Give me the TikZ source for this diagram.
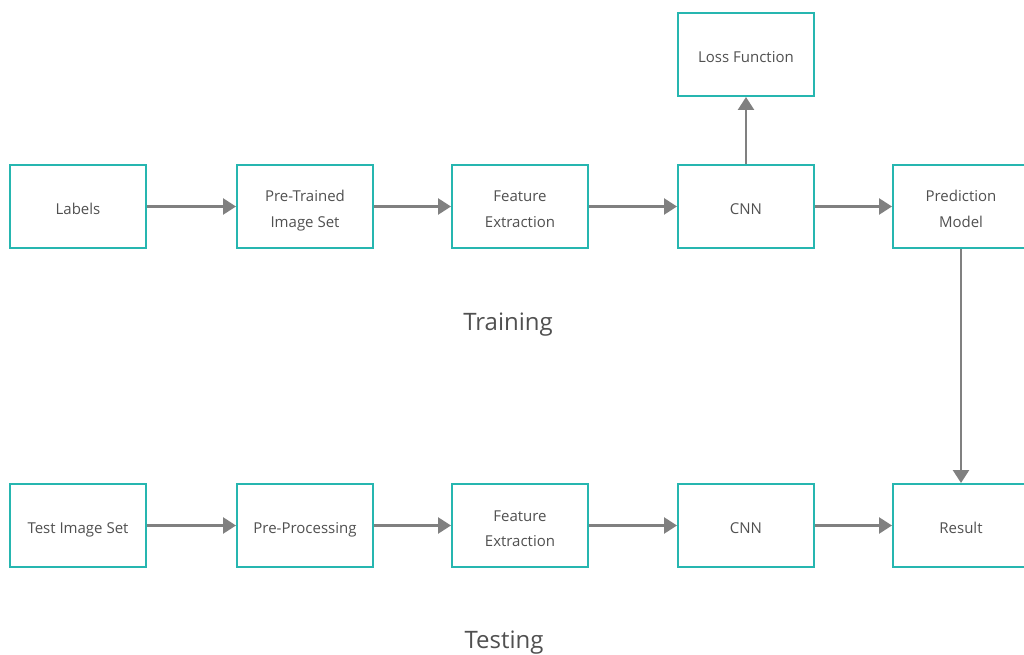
\documentclass[tikz,border=0pt]{standalone}
\usepackage{fontspec}
\setmainfont{Open Sans}
\usetikzlibrary{arrows.meta}
\definecolor{boxteal}{RGB}{38,182,176}
\definecolor{arrgray}{RGB}{128,128,128}
\definecolor{txtgray}{RGB}{80,80,80}
\newcommand{\blktext}[1]{\raisebox{-3bp}[\height][\depth]{\begin{tabular}{@{}c@{}}#1\end{tabular}}}
\tikzset{
  blk/.style={draw=boxteal, line width=2bp, minimum width=136bp, minimum height=83bp,
    inner sep=0pt, font=\fontsize{15bp}{25bp}\selectfont, text=txtgray},
  conn/.style={draw=arrgray, line width=2.6bp, -{Triangle[length=13bp,width=16bp]}},
  title/.style={font=\fontsize{24bp}{28bp}\selectfont, text=txtgray}
}
\begin{document}
\begin{tikzpicture}[x=1bp,y=-1bp]
\useasboundingbox (0,0) rectangle (1024,655);
\node[blk] (lab) at (78,206.5) {\blktext{Labels}};
\node[blk] (pti) at (305,206.5) {\blktext{Pre-Trained\\Image Set}};
\node[blk] (fe1) at (520,206.5) {\blktext{Feature\\Extraction}};
\node[blk] (cnn1) at (746,206.5) {\blktext{CNN}};
\node[blk] (loss) at (746,54.5) {\blktext{Loss Function}};
\node[blk] (pred) at (961,206.5) {\blktext{Prediction\\Model}};
\node[blk] (tis) at (78,525.5) {\blktext{Test Image Set}};
\node[blk] (pp) at (305,525.5) {\blktext{Pre-Processing}};
\node[blk] (fe2) at (520,525.5) {\blktext{Feature\\Extraction}};
\node[blk] (cnn2) at (746,525.5) {\blktext{CNN}};
\node[blk] (res) at (961,525.5) {\blktext{Result}};
\node[title] (train) at (508,325) {Training};
\node[title] (test) at (504,643) {Testing};
\draw[conn] (lab) -- (pti);
\draw[conn] (pti) -- (fe1);
\draw[conn] (fe1) -- (cnn1);
\draw[conn] (cnn1) -- (pred);
\draw[conn] (cnn1) -- (loss);
\draw[conn] (pred) -- (res);
\draw[conn] (tis) -- (pp);
\draw[conn] (pp) -- (fe2);
\draw[conn] (fe2) -- (cnn2);
\draw[conn] (cnn2) -- (res);
\end{tikzpicture}
\end{document}
